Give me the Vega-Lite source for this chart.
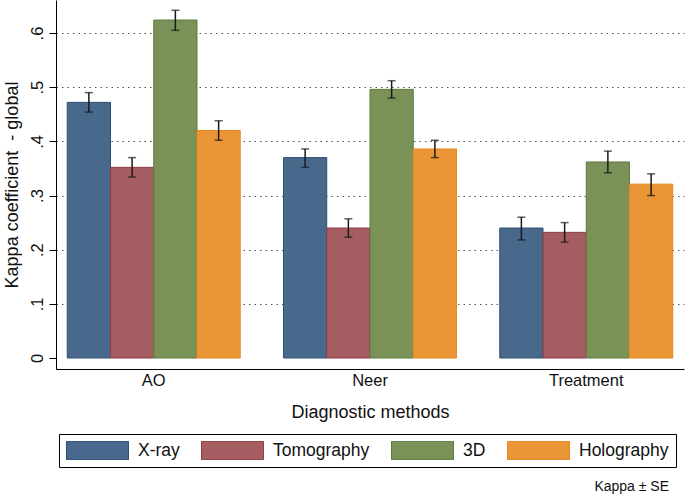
{
  "$schema": "https://vega.github.io/schema/vega-lite/v6.json",
  "width": 628,
  "height": 369,
  "autosize": "none",
  "padding": {"left": 56, "top": 0, "right": 1, "bottom": 125},
  "background": "white",
  "title": {"text": "Kappa ± SE", "orient": "bottom", "anchor": "end", "frame": "group", "fontSize": 14, "fontWeight": "normal", "color": "#111", "font": "Liberation Sans", "dx": -15, "offset": 12},
  "config": {
    "view": {"stroke": null},
    "font": "Liberation Sans",
    "axis": {"labelFont": "Liberation Sans", "titleFont": "Liberation Sans", "labelColor": "#111", "titleColor": "#111", "titleFontWeight": "normal", "domainColor": "#000", "tickColor": "#000"}
  },
  "data": {"values": [
    {"method": "AO", "type": "X-ray", "kappa": 0.472, "lo": 0.454, "hi": 0.490},
    {"method": "AO", "type": "Tomography", "kappa": 0.352, "lo": 0.334, "hi": 0.370},
    {"method": "AO", "type": "3D", "kappa": 0.624, "lo": 0.605, "hi": 0.642},
    {"method": "AO", "type": "Holography", "kappa": 0.420, "lo": 0.402, "hi": 0.438},
    {"method": "Neer", "type": "X-ray", "kappa": 0.370, "lo": 0.352, "hi": 0.386},
    {"method": "Neer", "type": "Tomography", "kappa": 0.240, "lo": 0.223, "hi": 0.257},
    {"method": "Neer", "type": "3D", "kappa": 0.496, "lo": 0.480, "hi": 0.512},
    {"method": "Neer", "type": "Holography", "kappa": 0.386, "lo": 0.370, "hi": 0.402},
    {"method": "Treatment", "type": "X-ray", "kappa": 0.240, "lo": 0.218, "hi": 0.260},
    {"method": "Treatment", "type": "Tomography", "kappa": 0.232, "lo": 0.214, "hi": 0.250},
    {"method": "Treatment", "type": "3D", "kappa": 0.362, "lo": 0.342, "hi": 0.382},
    {"method": "Treatment", "type": "Holography", "kappa": 0.321, "lo": 0.300, "hi": 0.340}
  ]},
  "encoding": {
    "x": {
      "field": "method", "type": "nominal", "sort": ["AO", "Neer", "Treatment"],
      "scale": {"paddingInner": 0.2, "paddingOuter": 0.052},
      "axis": {"title": "Diagnostic methods", "labelAngle": 0, "ticks": false, "labelFontSize": 16.5, "labelPadding": 3, "titleFontSize": 18, "titlePadding": 15, "domainWidth": 1, "grid": false}
    },
    "xOffset": {"field": "type", "type": "nominal", "sort": ["X-ray", "Tomography", "3D", "Holography"], "scale": {"paddingInner": 0, "paddingOuter": 0}}
  },
  "layer": [
    {
      "mark": {"type": "bar", "strokeWidth": 1},
      "encoding": {
        "y": {
          "field": "kappa", "type": "quantitative",
          "scale": {"domain": [-0.0203, 0.661], "nice": false, "zero": false},
          "axis": {
            "title": "Kappa coefficient \u00a0- global",
            "values": [0, 0.1, 0.2, 0.3, 0.4, 0.5, 0.6],
            "labelExpr": "datum.value == 0 ? '0' : replace(format(datum.value, '.1f'), '0.', '.')",
            "labelAngle": -90, "labelAlign": "center", "labelBaseline": "alphabetic",
            "labelFontSize": 16.5, "labelPadding": 7, "tickSize": 7,
            "titleFontSize": 18, "titlePadding": 8,
            "grid": true, "gridColor": "#555", "gridDash": [1.5, 4], "gridWidth": 1,
            "gridOpacity": {"condition": {"test": "datum.value == 0", "value": 0}, "value": 1}
          }
        },
        "y2": {"datum": 0},
        "fill": {
          "field": "type", "type": "nominal",
          "scale": {"domain": ["X-ray", "Tomography", "3D", "Holography"], "range": ["#48698c", "#a65d62", "#7a9157", "#ea9636"]},
          "legend": {
            "title": null, "orient": "none", "legendX": 3, "legendY": 434,
            "direction": "horizontal", "columns": 4, "columnPadding": 21,
            "symbolType": "M-1,-0.295H1V0.295H-1Z", "symbolSize": 3844, "symbolStrokeWidth": 1,
            "clipHeight": 19,
            "labelFontSize": 17.5, "labelColor": "#111", "labelOffset": 9, "labelFont": "Liberation Sans",
            "padding": 7, "strokeColor": "#000", "fillColor": "white"
          }
        },
        "stroke": {
          "field": "type", "type": "nominal",
          "scale": {"domain": ["X-ray", "Tomography", "3D", "Holography"], "range": ["#2d5077", "#8d3d45", "#5f7a3f", "#e58a1e"]},
          "legend": {
            "title": null, "orient": "none", "legendX": 3, "legendY": 434,
            "direction": "horizontal", "columns": 4, "columnPadding": 21,
            "symbolType": "M-1,-0.295H1V0.295H-1Z", "symbolSize": 3844, "symbolStrokeWidth": 1,
            "clipHeight": 19,
            "labelFontSize": 17.5, "labelColor": "#111", "labelOffset": 9, "labelFont": "Liberation Sans",
            "padding": 7, "strokeColor": "#000", "fillColor": "white"
          }
        }
      }
    },
    {
      "mark": {"type": "rule", "color": "#1a1a1a", "strokeWidth": 1.5},
      "encoding": {
        "y": {"field": "lo", "type": "quantitative"},
        "y2": {"field": "hi"}
      }
    },
    {
      "mark": {"type": "tick", "color": "#1a1a1a", "thickness": 1.5, "size": 8, "orient": "horizontal"},
      "encoding": {"y": {"field": "lo", "type": "quantitative"}}
    },
    {
      "mark": {"type": "tick", "color": "#1a1a1a", "thickness": 1.5, "size": 8, "orient": "horizontal"},
      "encoding": {"y": {"field": "hi", "type": "quantitative"}}
    }
  ]
}
